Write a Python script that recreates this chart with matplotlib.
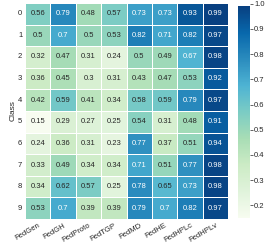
import matplotlib
matplotlib.use("Agg")
import matplotlib.pyplot as plt
import seaborn as sns
import numpy as np

methods = ["FedGen", "FedGH", "FedProto", "FedTGP", "FedMD", "FedHE", "FedHPLc", "FedHPLv"]
classes = ["0", "1", "2", "3", "4", "5", "6", "7", "8", "9"]
values = [
    [0.56, 0.79, 0.48, 0.57, 0.73, 0.73, 0.93, 0.99],
    [0.5, 0.7, 0.5, 0.53, 0.82, 0.71, 0.82, 0.97],
    [0.32, 0.47, 0.31, 0.24, 0.5, 0.49, 0.67, 0.98],
    [0.36, 0.45, 0.3, 0.31, 0.43, 0.47, 0.53, 0.92],
    [0.42, 0.59, 0.41, 0.34, 0.58, 0.59, 0.79, 0.97],
    [0.15, 0.29, 0.27, 0.25, 0.54, 0.31, 0.48, 0.91],
    [0.24, 0.36, 0.31, 0.23, 0.77, 0.37, 0.51, 0.94],
    [0.33, 0.49, 0.34, 0.34, 0.71, 0.51, 0.77, 0.98],
    [0.34, 0.62, 0.57, 0.25, 0.78, 0.65, 0.73, 0.98],
    [0.53, 0.7, 0.39, 0.39, 0.79, 0.7, 0.82, 0.97],
]

sns.set_theme(style="white")
plt.rcParams['font.family'] = ['Liberation Sans', 'DejaVu Sans']

fig = plt.figure(figsize=(2.66, 2.45), dpi=100)
ax = fig.add_axes([0.094, 0.106, 0.764, 0.882])
cax = fig.add_axes([0.895, 0.11, 0.045, 0.875])
sns.heatmap(np.array(values), ax=ax, cbar_ax=cax, cmap="GnBu", annot=True, fmt="g",
            linewidths=0.5, linecolor="white",
            annot_kws={"fontsize": 5.5},
            xticklabels=methods, yticklabels=classes)
ax.set_ylabel("Class", fontsize=6, labelpad=1)
ax.tick_params(axis="both", length=0, labelsize=5.5, pad=2)
plt.setp(ax.get_xticklabels(), rotation=30, ha="right", rotation_mode="anchor")
plt.setp(ax.get_yticklabels(), rotation=0)
cax.tick_params(labelsize=5.5, length=2, width=0.5, pad=1)
cax.set_yticks([0.2, 0.3, 0.4, 0.5, 0.6, 0.7, 0.8, 0.9, 1.0])
fig.savefig("out.png", dpi=100)
